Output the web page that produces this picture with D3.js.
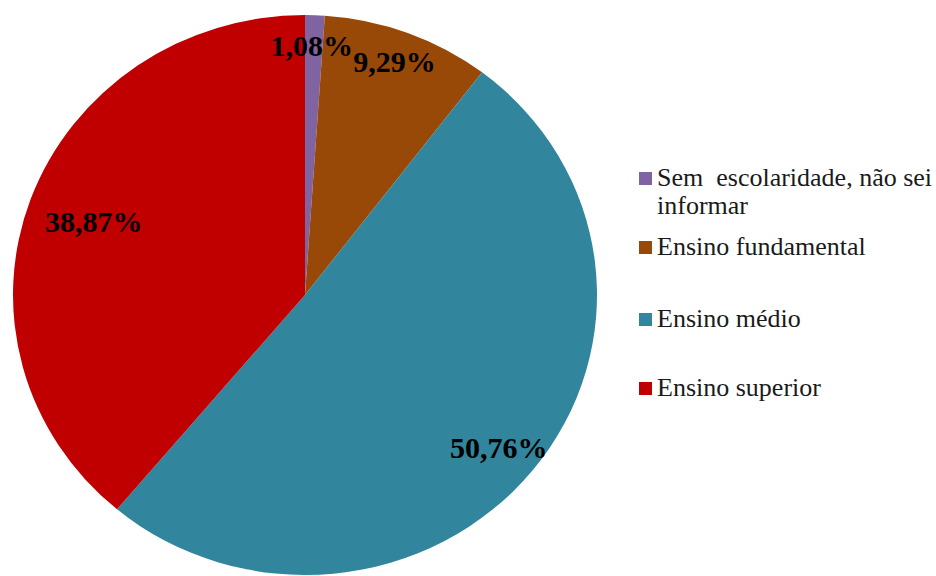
<!DOCTYPE html>
<html>
<head>
<meta charset="utf-8">
<script src="https://cdn.jsdelivr.net/npm/d3@7/dist/d3.min.js"></script>
<style>
  html, body { margin: 0; padding: 0; background: #fff; }
  svg { display: block; }
  text { font-family: "Liberation Serif", "Times New Roman", serif; }
</style>
</head>
<body>
<svg id="chart" width="936" height="576"></svg>
<script>
// Escolaridade dos respondentes (%)
const categories = ["Sem  escolaridade, não sei informar", "Ensino fundamental", "Ensino médio", "Ensino superior"];
const legendLines = [["Sem  escolaridade, não sei", "informar"], ["Ensino fundamental"], ["Ensino médio"], ["Ensino superior"]];
const values = [1.08, 9.29, 50.76, 38.87];
const valueLabels = ["1,08%", "9,29%", "50,76%", "38,87%"];
const colors = ["#8064A2", "#984807", "#31859C", "#C00000"];

const svg = d3.select("#chart");
const cx = 305, cy = 295;
const rx = 292, ry = 280;

const pie = d3.pie().sort(null).value(d => d)(values);
const arc = d3.arc().innerRadius(0).outerRadius(ry);

// Slightly wide ellipse: draw with radius ry and stretch horizontally
const g = svg.append("g").attr("transform", `translate(${cx},${cy})`);
g.append("g")
  .attr("transform", `scale(${rx / ry},1)`)
  .selectAll("path")
  .data(pie)
  .join("path")
  .attr("d", arc)
  .attr("fill", (d, i) => colors[i]);

// Value labels placed along each slice's mid-angle
const labelRadius = [0.89, 0.88, 0.85, 0.77];
const labelNudge = [[-2, 0], [-1, -3], [0, 4], [0, 0]];
g.selectAll("text.val")
  .data(pie)
  .join("text")
  .attr("class", "val")
  .attr("x", (d, i) => {
    const a = (d.startAngle + d.endAngle) / 2;
    return Math.sin(a) * rx * labelRadius[i] + labelNudge[i][0];
  })
  .attr("y", (d, i) => {
    const a = (d.startAngle + d.endAngle) / 2;
    return -Math.cos(a) * ry * labelRadius[i] + labelNudge[i][1];
  })
  .attr("text-anchor", "middle")
  .attr("dominant-baseline", "central")
  .style("font-weight", "bold")
  .style("font-size", "30px")
  .attr("fill", "#000")
  .text((d, i) => valueLabels[i]);

// Legend
const legendY = [186, 255, 327, 396];
const legend = svg.append("g");
categories.forEach((c, i) => {
  legend.append("rect")
    .attr("x", 639).attr("y", legendY[i] - 14)
    .attr("width", 13).attr("height", 13)
    .attr("fill", colors[i]);
  const t = legend.append("text")
    .attr("x", 657).attr("y", legendY[i])
    .attr("fill", "#1a1a1a")
    .style("font-size", "26px")
    .style("white-space", "pre");
  legendLines[i].forEach((line, j) => {
    t.append("tspan").attr("x", 657).attr("dy", j === 0 ? 0 : 28).text(line);
  });
});
</script>
</body>
</html>
